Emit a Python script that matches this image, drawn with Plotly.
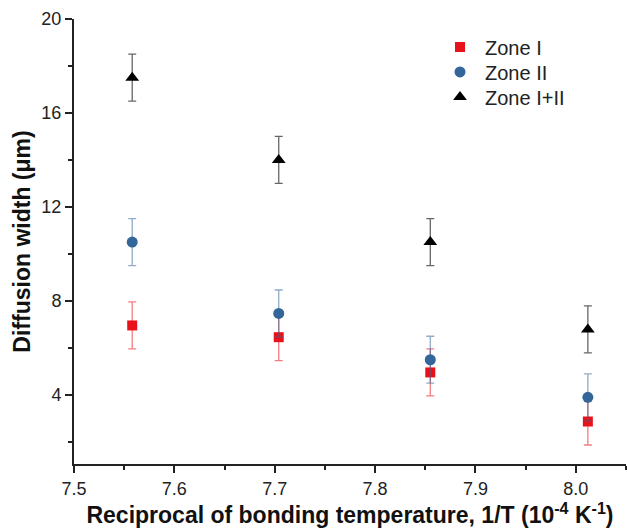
import plotly.graph_objects as go

x_vals = [7.558, 7.704, 7.855, 8.012]
zone1 = [6.95, 6.45, 4.95, 2.86]
zone2 = [10.5, 7.46, 5.49, 3.89]
zone12 = [17.5, 14.0, 10.5, 6.78]
err1 = [1.0, 1.0, 1.0, 1.0]
err2 = [1.0, 1.0, 1.0, 1.0]
err12 = [1.0, 1.0, 1.0, 1.0]
names = ["Zone I", "Zone II", "Zone I+II"]

fig = go.Figure()
specs = [
    (zone1, err1, names[0], "square", "#e8121a", "rgba(232,18,26,0.55)", 10, "legend"),
    (zone2, err2, names[1], "circle", "#336699", "rgba(51,102,153,0.55)", 11, "legend2"),
    (zone12, err12, names[2], "triangle-up", "#000000", "rgba(0,0,0,0.6)", 12, "legend3"),
]
for y, e, n, sym, col, ecol, sz, lg in specs:
    fig.add_trace(go.Scatter(
        x=x_vals, y=y, mode="markers", name=n, legend=lg,
        marker=dict(symbol=sym, color=col, size=sz, line=dict(width=0)),
        error_y=dict(type="data", array=e, visible=True, color=ecol, thickness=1.3, width=4),
    ))

def leg(ypos):
    return dict(x=0.654, y=ypos, xanchor="left", yanchor="middle",
                bgcolor="rgba(0,0,0,0)", font=dict(size=20, color="#222"),
                itemwidth=40)

axis_font = dict(family="Liberation Sans, Arial, sans-serif", size=18, color="#222")
fig.update_layout(
    width=627, height=531,
    margin=dict(l=74, r=1, t=19, b=67),
    plot_bgcolor="white", paper_bgcolor="white",
    font=axis_font,
    showlegend=True,
    legend=leg(0.937),
    legend2=leg(0.881),
    legend3=leg(0.825),
)
fig.update_xaxes(
    range=[7.5, 8.05], dtick=0.1, tick0=7.5, tickformat=".1f",
    showgrid=False, zeroline=False, showline=True, linecolor="#222", linewidth=2,
    ticks="outside", ticklen=7, tickwidth=1.5, tickcolor="#222",
    minor=dict(dtick=0.05, tick0=7.5, ticks="outside", ticklen=4, tickwidth=1.5, tickcolor="#222", showgrid=False),
    tickfont=dict(size=18),
    title=dict(text="<b>Reciprocal of bonding temperature, 1/T (10<sup>-4</sup> K<sup>-1</sup>)</b>",
               font=dict(size=23, color="#111"), standoff=6),
)
fig.update_yaxes(
    range=[1.05, 20], dtick=4, tick0=0,
    showgrid=False, zeroline=False, showline=True, linecolor="#222", linewidth=2,
    ticks="outside", ticklen=7, tickwidth=1.5, tickcolor="#222",
    minor=dict(dtick=2, tick0=0, ticks="outside", ticklen=4, tickwidth=1.5, tickcolor="#222", showgrid=False),
    tickfont=dict(size=18),
    title=dict(text="<b>Diffusion width (μm)</b>", font=dict(size=23, color="#111"), standoff=4),
)
fig.write_html("out.html")
